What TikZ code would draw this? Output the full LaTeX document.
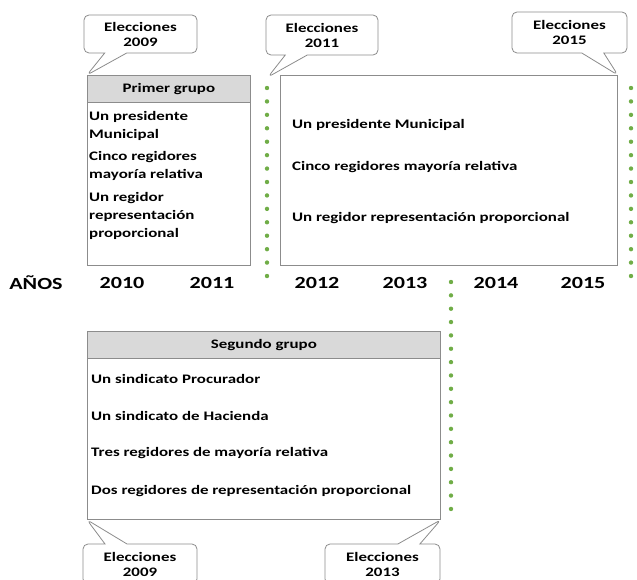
\documentclass[tikz,border=0pt]{standalone}
\usepackage{fontspec}
\setmainfont{Carlito}[FakeStretch=1.3]
\usetikzlibrary{positioning, shapes.callouts}
\definecolor{PuntoVerde}{RGB}{112,173,71}
\definecolor{BordeGris}{RGB}{140,140,140}
\definecolor{CabeceraGris}{RGB}{217,217,217}

\begin{document}
\begin{tikzpicture}[x=1pt, y=-1pt,
    every node/.style={font=\fontsize{13}{18}\selectfont\bfseries},
    caja/.style={draw=BordeGris, line width=0.8pt, anchor=north west, inner sep=0pt},
    cabecera/.style={caja, fill=CabeceraGris, minimum height=27pt},
    texto/.style={anchor=west, align=left, inner sep=0pt},
    globo/.style={rectangle callout, draw=BordeGris, line width=0.8pt, rounded corners=5pt, fill=white, align=center, callout pointer width=22pt, font=\fontsize{13}{15}\selectfont\bfseries},
    anio/.style={font=\fontsize{17}{20}\selectfont\bfseries},
    punto/.style={fill=PuntoVerde}]
    \useasboundingbox (0,0) rectangle (637,580);
    \clip (0,0) rectangle (637,580);

    % Cajas
    \node[caja, minimum width=163pt, minimum height=190pt] (primer) at (87,75) {};
    \node[cabecera, minimum width=163pt] (primerTit) at (primer.north west) {Primer grupo};
    \node[caja, minimum width=337pt, minimum height=190pt] (primerB) at (280,75) {};
    \node[caja, minimum width=353pt, minimum height=188pt] (segundo) at (87,331) {};
    \node[cabecera, minimum width=353pt] (segundoTit) at (segundo.north west) {Segundo grupo};

    % Textos
    \node[texto] (p1) at (89,126) {Un presidente\\Municipal};
    \node[texto] (p2) at (89,165.5) {Cinco regidores\\mayoría relativa};
    \node[texto] (p3) at (89,216) {Un regidor\\representación\\proporcional};
    \node[texto] (q1) at (292,125) {Un presidente Municipal};
    \node[texto] (q2) at (292,167) {Cinco regidores mayoría relativa};
    \node[texto] (q3) at (292,218) {Un regidor representación proporcional};
    \node[texto] (s1) at (91,379) {Un sindicato Procurador};
    \node[texto] (s2) at (91,416) {Un sindicato de Hacienda};
    \node[texto] (s3) at (91,453) {Tres regidores de mayoría relativa};
    \node[texto] (s4) at (91,491) {Dos regidores de representación proporcional};

    % Años
    \node[anio] (anios) at (36,283) {AÑOS};
    \node[anio] (a2010) at (122,283) {2010};
    \node[anio] (a2011) at (212,283) {2011};
    \node[anio] (a2012) at (317,283) {2012};
    \node[anio] (a2013) at (405,283) {2013};
    \node[anio] (a2014) at (496,283) {2014};
    \node[anio] (a2015) at (583,283) {2015};

    % Puntos
    \foreach \i in {0,...,14} {
        \fill[punto] (267,88+13.43*\i) circle (2.2);
        \fill[punto] (631,88+13.43*\i) circle (2.2);
    }
    \foreach \i in {0,...,17}
        \fill[punto] (451,282+13.35*\i) circle (2.2);

    % Elecciones
    \coordinate (marca2011) at (268,77);
    \node[globo, minimum width=113pt, minimum height=38pt, callout absolute pointer={(primer.north west)}] (elec2009a) at (140.5,34) {Elecciones\\2009};
    \node[globo, minimum width=112pt, minimum height=40pt, callout absolute pointer={(marca2011)}] (elec2011) at (322,35) {Elecciones\\2011};
    \node[globo, minimum width=115pt, minimum height=41pt, callout absolute pointer={(primerB.north east)}] (elec2015) at (569.5,32.5) {Elecciones\\2015};
    \node[globo, minimum width=114pt, minimum height=40pt, callout absolute pointer={(segundo.south west)}] (elec2009b) at (140,564) {Elecciones\\2009};
    \node[globo, minimum width=115pt, minimum height=40pt, callout absolute pointer={(segundo.south east)}] (elec2013) at (382.5,564) {Elecciones\\2013};
\end{tikzpicture}
\end{document}
